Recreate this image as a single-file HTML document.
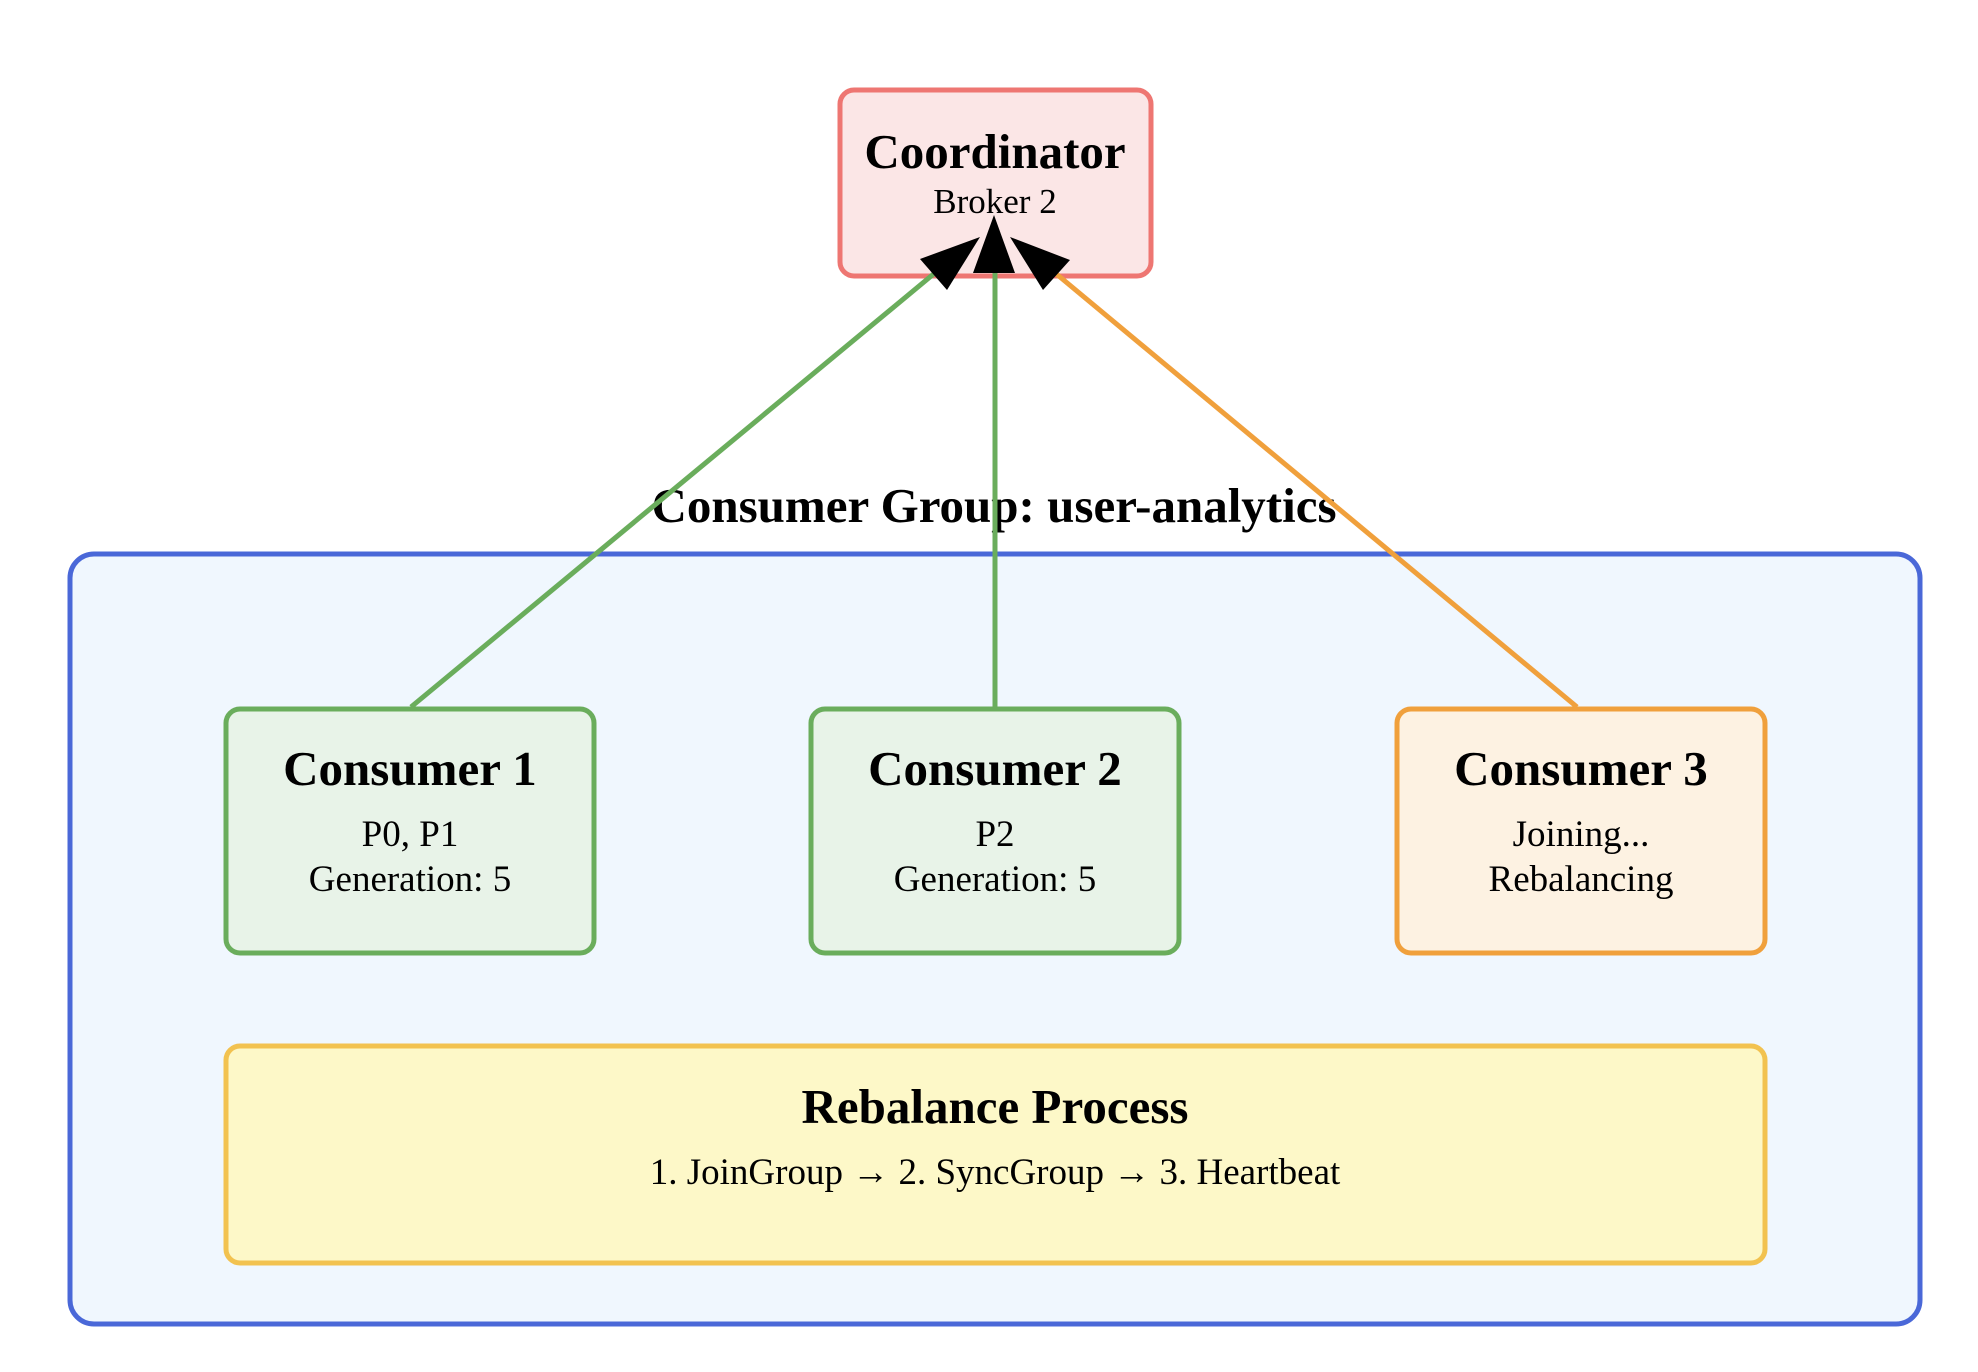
<!DOCTYPE html>
<html><head><meta charset="utf-8"><style>html,body{margin:0;padding:0;background:#fff}svg{display:block}</style></head>
<body>
<svg width="1978" height="1372" viewBox="0 0 1978 1372" xmlns="http://www.w3.org/2000/svg" font-family="'Liberation Serif', serif" text-anchor="middle">
<rect x="0" y="0" width="1978" height="1372" fill="#fff"/>
<rect x="70" y="554" width="1850" height="770" rx="24" fill="#f0f7fe" stroke="#4a68d8" stroke-width="5"/>
<text x="994" y="522" font-size="49" font-weight="bold">Consumer Group: user-analytics</text>
<rect x="840" y="90" width="311" height="186" rx="14" fill="#fbe6e6" stroke="#ee7672" stroke-width="5"/>
<text x="995" y="168" font-size="49" font-weight="bold">Coordinator</text>
<text x="995" y="213" font-size="35">Broker 2</text>
<rect x="226" y="709" width="368" height="244" rx="14" fill="#e8f3e8" stroke="#6aad5c" stroke-width="5"/>
<text x="410" y="785" font-size="49" font-weight="bold">Consumer 1</text>
<text x="410" y="846" font-size="37">P0, P1</text>
<text x="410" y="891" font-size="37">Generation: 5</text>
<rect x="811" y="709" width="368" height="244" rx="14" fill="#e8f3e8" stroke="#6aad5c" stroke-width="5"/>
<text x="995" y="785" font-size="49" font-weight="bold">Consumer 2</text>
<text x="995" y="846" font-size="37">P2</text>
<text x="995" y="891" font-size="37">Generation: 5</text>
<rect x="1397" y="709" width="368" height="244" rx="14" fill="#fdf2e2" stroke="#f0a03c" stroke-width="5"/>
<text x="1581" y="785" font-size="49" font-weight="bold">Consumer 3</text>
<text x="1581" y="846" font-size="37">Joining...</text>
<text x="1581" y="891" font-size="37">Rebalancing</text>
<rect x="226" y="1046" width="1539" height="217" rx="14" fill="#fdf8c8" stroke="#f2c250" stroke-width="5"/>
<text x="995" y="1123" font-size="49" font-weight="bold">Rebalance Process</text>
<text x="995" y="1184" font-size="37">1. JoinGroup → 2. SyncGroup → 3. Heartbeat</text>
<line x1="411" y1="707" x2="936" y2="272" stroke="#6aad5c" stroke-width="5"/>
<line x1="995" y1="707" x2="995" y2="272" stroke="#6aad5c" stroke-width="5"/>
<line x1="1577" y1="707" x2="1054" y2="272" stroke="#f0a03c" stroke-width="5"/>
<polygon points="980,237 920,259 947,290" fill="#000"/>
<polygon points="994,215 973,273 1015,273" fill="#000"/>
<polygon points="1010,237 1070,260 1043,290" fill="#000"/>
</svg>
</body></html>
